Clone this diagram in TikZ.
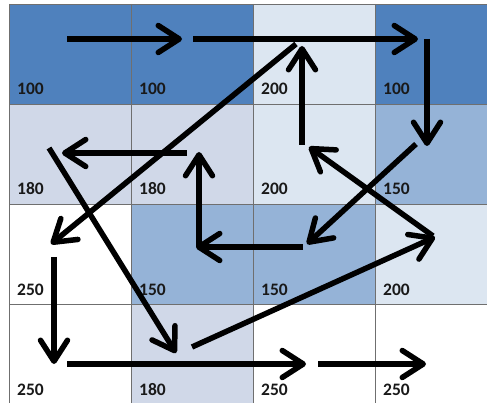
\documentclass[tikz,border=0pt]{standalone}
\usepackage{fontspec}
\setmainfont{Carlito}
\usetikzlibrary{arrows.meta}
\definecolor{cdark}{HTML}{4F81BD}
\definecolor{cmid}{HTML}{95B3D7}
\definecolor{clav}{HTML}{D0D8E8}
\definecolor{clight}{HTML}{DCE6F1}
\definecolor{cgrid}{HTML}{6F6F6F}
\tikzset{
  gridline/.style={draw=cgrid, line width=0.9pt},
  val/.style={anchor=base west, inner sep=0pt, font=\fontsize{17.5}{17.5}\selectfont\bfseries, text=black!90},
  move/.style={line width=5.5pt, -{Straight Barb[length=21pt,width=27pt,round]}, black}
}
\begin{document}
\begin{tikzpicture}[x=1pt,y=-1pt]
\useasboundingbox (0,0) rectangle (487,403);
\begin{scope}
\clip (0,0) rectangle (487,403);
% cell fills and values
\foreach \c/\r/\fc/\v in {
  0/0/cdark/100, 1/0/cdark/100, 2/0/clight/200, 3/0/cdark/100,
  0/1/clav/180, 1/1/clav/180, 2/1/clight/200, 3/1/cmid/150,
  0/2/white/250, 1/2/cmid/150, 2/2/cmid/150, 3/2/clight/200,
  0/3/white/250, 1/3/clav/180, 2/3/white/250, 3/3/white/250}{
  \fill[\fc] ({9+122*\c},{4+100*\r}) rectangle ++(122,100);
}
% grid lines
\foreach \gx in {9,131,253,375}{\draw[gridline] (\gx,4) -- (\gx,404);}
\foreach \gy in {4,104,204,304}{\draw[gridline] (9,\gy) -- (497,\gy);}
\end{scope}
\foreach \c/\r/\v in {
  0/0/100, 1/0/100, 2/0/200, 3/0/100,
  0/1/180, 1/1/180, 2/1/200, 3/1/150,
  0/2/250, 1/2/150, 2/2/150, 3/2/200,
  0/3/250, 1/3/180, 2/3/250, 3/3/250}{
  \node[val] (v\c\r) at ({17+122*\c},{4+100*\r+91}) {\v};
}
% path endpoints
\coordinate (a1) at (67,39);   \coordinate (a2) at (182,39);
\coordinate (b1) at (193,39);  \coordinate (b2) at (418,39);
\coordinate (c1) at (427,39);  \coordinate (c2) at (427,146);
\coordinate (d1) at (416,144); \coordinate (d2) at (307,244);
\coordinate (e1) at (303,247); \coordinate (e2) at (196,247);
\coordinate (f1) at (199,247); \coordinate (f2) at (199,152);
\coordinate (g1) at (187,153); \coordinate (g2) at (62,153);
\coordinate (h1) at (49,148);  \coordinate (h2) at (176,353);
\coordinate (i1) at (296,44);  \coordinate (i2) at (51,244);
\coordinate (j1) at (54,257);  \coordinate (j2) at (54,364);
\coordinate (k1) at (67,364);  \coordinate (k2) at (306,364);
\coordinate (l1) at (318,364); \coordinate (l2) at (426,364);
\coordinate (m1) at (192,347); \coordinate (m2) at (435,237);
\coordinate (n1) at (433,236); \coordinate (n2) at (309,147);
\coordinate (o1) at (302,145); \coordinate (o2) at (302,46);
% arrows
\foreach \p in {a,b,c,d,e,f,g,h,i,j,k,l,m,n,o}{
  \draw[move] (\p1) -- (\p2);
}
\end{tikzpicture}
\end{document}
